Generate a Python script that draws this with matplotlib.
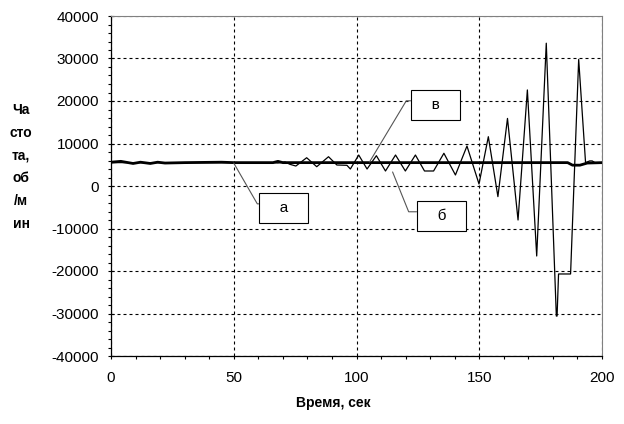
import matplotlib
matplotlib.use("Agg")
import matplotlib.pyplot as plt
from matplotlib.ticker import MultipleLocator

plt.rcParams['font.family'] = ['Liberation Sans', 'DejaVu Sans']
plt.rcParams['axes.unicode_minus'] = False

# curve "а" - thick, almost constant speed
time_a = [0, 4, 6, 9, 12, 16, 19, 22, 30, 45, 50, 66, 68, 70, 100, 150, 186, 188, 191, 194, 200]
freq_a = [5600, 5800, 5600, 5300, 5600, 5300, 5600, 5400, 5500, 5600, 5500, 5500, 5800, 5500,
          5500, 5500, 5500, 4900, 4900, 5400, 5500]

# curve "б" / "в" - thin, growing oscillations
time_b = [0, 66, 68, 70.9, 72.9, 75.3, 79.7, 83.8, 88.6, 92.0, 96.1, 97.5, 100.9, 104.3,
          108.1, 111.8, 115.9, 119.9, 124.0, 127.7, 131.4, 135.6, 140.3, 145.0, 149.9,
          153.7, 157.6, 161.5, 165.8, 169.6, 173.4, 177.3, 181.4, 181.7, 182.3, 187.2,
          190.5, 193.3, 195.0, 196.0, 197.1]
freq_b = [5500, 5500, 5400, 5650, 5100, 4700, 6650, 4540, 6890, 4940, 4870, 4000, 7290, 4000,
          7130, 3530, 7290, 3530, 7290, 3530, 3530, 7700, 2590, 9400, 470,
          11600, -2500, 15900, -8000, 22600, -16470, 33600, -30600, -30600, -20700, -20700,
          29800, 5500, 5900, 5900, 5500]

# callouts: label, point on curve, box offset (px), leader anchor on box, leader angle
callouts = [("а", 50, 5400, (50, -45), (0, 0.8), -60),
            ("в", 105.3, 5650, (66, 57), (0, 0.8), 59),
            ("б", 114.7, 3300, (49, -44), (0, 0.8), -68)]

fig = plt.figure(figsize=(6.24, 4.24), dpi=100)
ax = fig.add_axes([111 / 624, 68 / 424, 491 / 624, 340 / 424])

ax.plot(time_b, freq_b, color='black', lw=0.9, zorder=3)
ax.plot(time_a, freq_a, color='black', lw=2.0, zorder=4)

ax.set_xlim(0, 200)
ax.set_ylim(-40000, 40000)
ax.xaxis.set_major_locator(MultipleLocator(50))
ax.xaxis.set_minor_locator(MultipleLocator(10))
ax.yaxis.set_major_locator(MultipleLocator(10000))
ax.yaxis.set_minor_locator(MultipleLocator(2000))

ax.grid(True, which='major', color='black', lw=0.8, linestyle=(0, (2.7, 2.7)))
ax.tick_params(axis='y', which='major', direction='inout', length=5, width=0.8, labelsize=11, pad=6)
ax.tick_params(axis='y', which='minor', direction='out', length=2.5, width=0.8)
ax.tick_params(axis='x', which='both', direction='out', length=2.5, width=0.8, labelsize=11, pad=8)

for side in ['top', 'right']:
    ax.spines[side].set_color('#808080')
for side in ['left', 'bottom']:
    ax.spines[side].set_color('black')
    ax.spines[side].set_linewidth(0.9)

for label, t, f, offset, rel, ang in callouts:
    ax.annotate("   " + label + "   ", xy=(t, f), xycoords='data',
                xytext=offset, textcoords='offset pixels',
                ha='center', va='center', fontsize=11,
                bbox=dict(boxstyle='square,pad=0.5', fc='white', ec='black', lw=0.8),
                arrowprops=dict(arrowstyle='-', color='#555555', lw=0.8,
                                relpos=rel, shrinkA=0, shrinkB=0,
                                connectionstyle='angle,angleA=0,angleB=%d,rad=0' % ang),
                zorder=5)

fig.text(21 / 624, 1 - 167 / 424, "Ча\nсто\nта,\nоб\n/м\nин", ha='center', va='center',
         fontsize=10, fontweight='bold', linespacing=1.8)
fig.text(333 / 624, 1 - 403 / 424, "Время, сек", ha='center', va='center',
         fontsize=10, fontweight='bold')

fig.savefig("out.png", dpi=100)
